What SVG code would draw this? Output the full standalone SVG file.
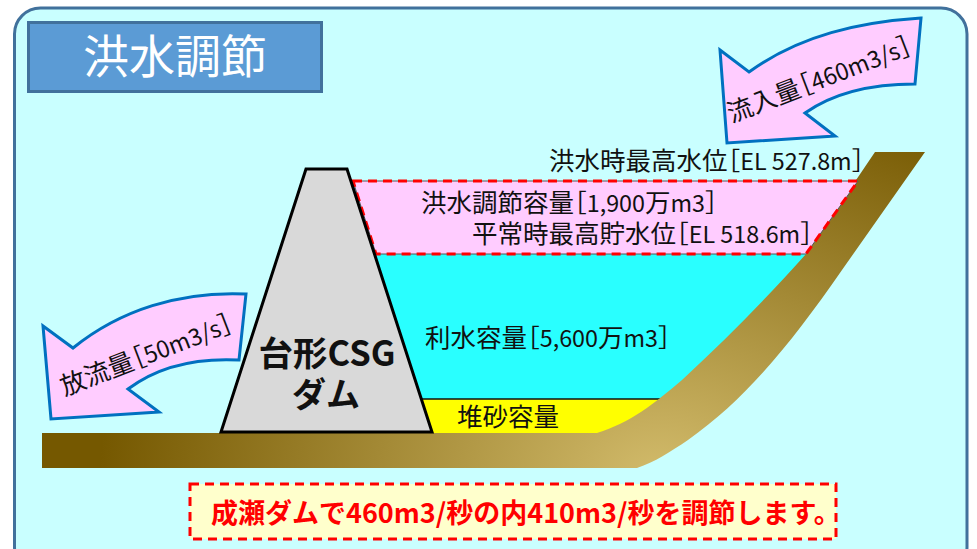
<svg xmlns="http://www.w3.org/2000/svg" width="977" height="549" viewBox="0 0 977 549">
<style>
text{font-family:"Noto Sans CJK JP","Noto Sans",sans-serif;fill:#111}
.l{font-size:25.500px}
.h{font-size:25.500px;font-feature-settings:"halt"}
.n{font-size:23.300px}
.arrow{fill:#ffccff;stroke:#0070c0;stroke-width:3;stroke-linejoin:miter}
.dash{stroke:#ff0000;stroke-width:3;stroke-dasharray:9 6}
.edge{stroke:#555;stroke-width:1;fill:#ffccff}
</style>
<defs>
<radialGradient id="earth" gradientUnits="userSpaceOnUse" cx="0" cy="0" r="400" gradientTransform="translate(660 475) scale(1.4 1)">
<stop offset="0" stop-color="#d2bb6b"/><stop offset="1" stop-color="#755800"/>
</radialGradient>
</defs>
<rect width="977" height="549" fill="#ffffff"/>
<g id="panel"><rect x="14.500" y="8" width="952.500" height="565" rx="26" fill="#c9ffff" stroke="#41719c" stroke-width="3"/></g>
<g id="title"><rect x="28.500" y="22.500" width="293" height="69" fill="#5b9bd5" stroke="#41719c" stroke-width="3"/>
<text x="175" y="73" text-anchor="middle" font-size="46" style="fill:#fff">洪水調節</text></g>
<g id="water"><polygon points="370,254 812,254 672,399 418,399" fill="#29ffff"/></g>
<g id="sediment"><polygon points="418,399 670,399 640,425 597,435 425,435" fill="#ffff00"/>
<line x1="420" y1="399" x2="662" y2="399" stroke="#111" stroke-width="1.500"/>
<text class="l" x="457" y="426">堆砂容量</text></g>
<g id="ground"><path d="M42 433H597C630 423 655 403 682 380C725 340 765 300 806 254L875 152H925L842 270C790 345 745 400 688 440C670 452 655 462 637 468H42Z" fill="url(#earth)"/></g>
<g id="flood-capacity"><polygon class="edge" points="353,181 858,181 806,254 376,254"/><polygon class="dash" points="353,181 858,181 806,254 376,254" fill="none"/>
<text class="l" x="421" y="212">洪水調節容量<tspan class="h">［</tspan><tspan class="n">1,900</tspan>万<tspan class="n">m3</tspan><tspan class="h">］</tspan></text>
<text class="l" x="472" y="243">平常時最高貯水位<tspan class="h">［</tspan><tspan class="n">EL 518.6m</tspan><tspan class="h">］</tspan></text></g>
<g id="dam"><polygon points="306,169 347,169 432,432 221,432" fill="#d9d9d9" stroke="#000" stroke-width="3"/>
<text x="327" y="366" text-anchor="middle" font-size="34.500" font-weight="700">台形CSG</text>
<text x="326" y="407" text-anchor="middle" font-size="34" font-weight="700">ダム</text></g>
<g id="labels"><text class="l" x="549" y="170">洪水時最高水位<tspan class="h">［</tspan><tspan class="n">EL 527.8m</tspan><tspan class="h">］</tspan></text>
<text class="l" x="425" y="347">利水容量<tspan class="h">［</tspan><tspan class="n">5,600</tspan>万<tspan class="n">m3</tspan><tspan class="h">］</tspan></text></g>
<g id="connectors">
<g id="inflow-arrow"><path class="arrow" d="M921 18C860 22 800 35 749 72L720 50L727 143L835 136L805 113C835 92 875 84 915 84Z"/>
<text class="l" transform="translate(731.500 123) rotate(-21)">流入量<tspan class="h">［</tspan><tspan class="n">460m3/s</tspan><tspan class="h">］</tspan></text></g>
<g id="outflow-arrow"><path class="arrow" d="M246 294C180 291 120 310 73 348L43 326L51 419L159 412L128 389C160 365 200 358 239 360Z"/>
<text class="l" transform="translate(64.500 396) rotate(-21)">放流量<tspan class="h">［</tspan><tspan class="n">50m3/s</tspan><tspan class="h">］</tspan></text></g>
</g>
<g id="note"><rect class="dash" x="190" y="484" width="646" height="55" fill="#ffffcc"/>
<text x="211" y="523" font-size="27" font-weight="700" style="fill:#ff0000">成瀬ダムで460m3/秒の内410m3/秒を調節します。</text></g>
</svg>
